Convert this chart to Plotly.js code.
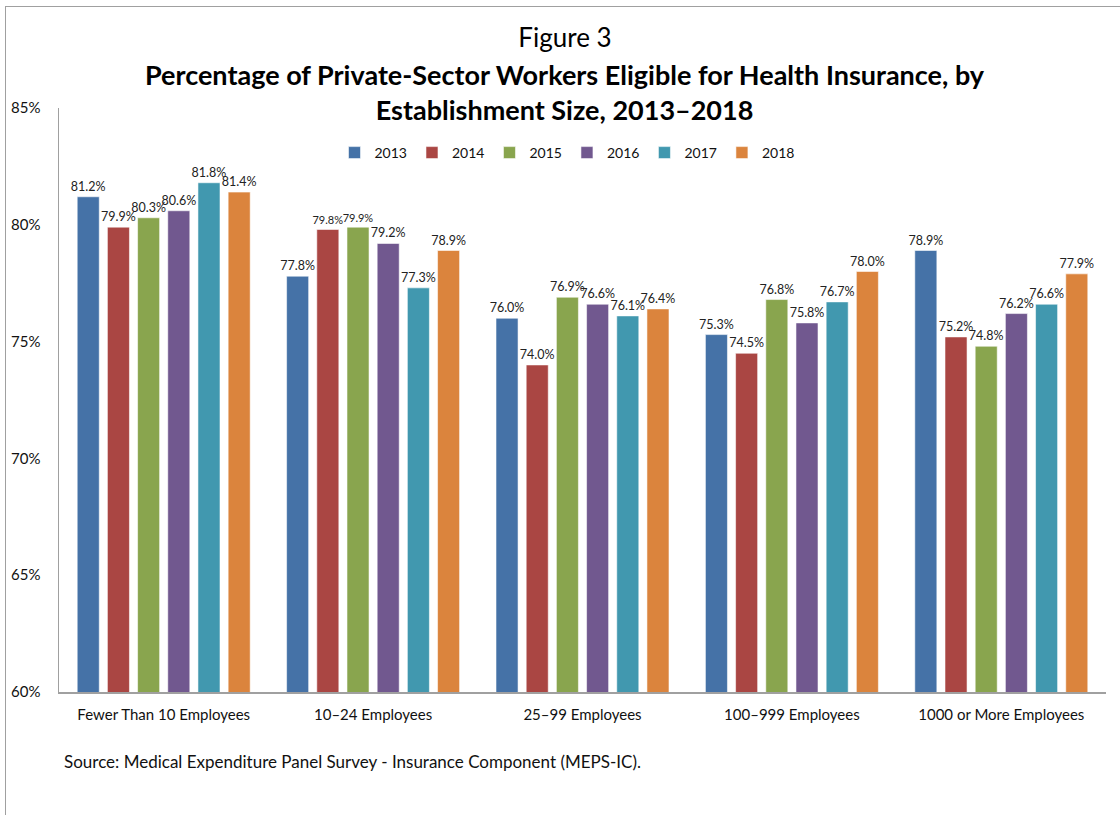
<!DOCTYPE html>
<html>
<head>
<meta charset="utf-8">
<script src="https://cdn.plot.ly/plotly-3.0.1.min.js"></script>
<style>
  html, body { margin: 0; padding: 0; background: #fff; }
  #wrap { position: relative; width: 1120px; height: 815px; overflow: hidden; }
  #chart { position: absolute; left: 0; top: 0; width: 1120px; height: 815px; }
  #frame { position: absolute; left: 5px; top: 6px; width: 1200px; height: 900px;
           border-left: 1.5px solid #a0a0a0; border-top: 1.5px solid #a0a0a0; pointer-events: none; }
</style>
</head>
<body>
<div id="wrap">
  <div id="chart"></div>
  <div id="frame"></div>
</div>
<script>
const categories = ["Fewer Than 10 Employees", "10–24 Employees", "25–99 Employees", "100–999 Employees", "1000 or More Employees"];
const years = ["2013", "2014", "2015", "2016", "2017", "2018"];
const v2013 = [81.2, 77.8, 76.0, 75.3, 78.9];
const v2014 = [79.9, 79.8, 74.0, 74.5, 75.2];
const v2015 = [80.3, 79.9, 76.9, 76.8, 74.8];
const v2016 = [80.6, 79.2, 76.6, 75.8, 76.2];
const v2017 = [81.8, 77.3, 76.1, 76.7, 76.6];
const v2018 = [81.4, 78.9, 76.4, 78.0, 77.9];
const yTicks = [60, 65, 70, 75, 80, 85];
const seriesValues = [v2013, v2014, v2015, v2016, v2017, v2018];
const colors = ["#4572A7", "#AA4643", "#89A54E", "#71588F", "#4198AF", "#DB843D"];

const FONT = "Lato, 'Open Sans', 'Liberation Sans', sans-serif";

// labels of neighbouring bars with nearly equal values get a slightly smaller font so they do not collide
function labelSize(i, g) {
  const v = seriesValues[i][g];
  const left = i > 0 ? seriesValues[i - 1][g] : null;
  const right = i < seriesValues.length - 1 ? seriesValues[i + 1][g] : null;
  const near = (left !== null && Math.abs(left - v) < 0.2) || (right !== null && Math.abs(right - v) < 0.2);
  return near ? 11 : 12.5;
}

const traces = years.map((yr, i) => ({
  type: "bar",
  name: yr,
  x: categories,
  y: seriesValues[i],
  text: seriesValues[i].map(v => v.toFixed(1) + "%"),
  textposition: "outside",
  constraintext: "none",
  cliponaxis: false,
  textfont: { family: FONT, size: seriesValues[i].map((v, g) => labelSize(i, g)), color: "#222" },
  marker: { color: colors[i], line: { color: "rgba(255,255,255,0.55)", width: 1 } },
  hoverinfo: "x+y+name"
}));

const layout = {
  width: 1120,
  height: 815,
  autosize: false,
  margin: { l: 59, r: 14, t: 108, b: 123, autoexpand: false },
  paper_bgcolor: "rgba(0,0,0,0)",
  plot_bgcolor: "rgba(0,0,0,0)",
  font: { family: FONT, size: 15, color: "#111" },
  title: {
    text: "Figure 3",
    font: { family: FONT, size: 26, color: "#000" },
    xref: "container", x: 565 / 1120, xanchor: "center",
    yref: "container", y: 1 - 38 / 815, yanchor: "middle"
  },
  barmode: "group",
  bargap: 0.135,
  bargroupgap: 0.27,
  showlegend: true,
  legend: {
    orientation: "h",
    xref: "paper", x: (567 - 59) / 1047, xanchor: "center",
    yref: "paper", y: (692 - 153) / 584, yanchor: "middle",
    font: { family: FONT, size: 14, color: "#111" },
    itemwidth: 30,
    tracegroupgap: 0,
    bgcolor: "rgba(0,0,0,0)"
  },
  xaxis: {
    type: "category",
    showline: true,
    linecolor: "#a0a0a0",
    linewidth: 2,
    ticks: "",
    showgrid: false,
    zeroline: false,
    tickangle: 0,
    tickfont: { family: FONT, size: 15, color: "#111" },
    ticklabelstandoff: 8
  },
  yaxis: {
    range: [60, 85],
    tickvals: yTicks,
    ticktext: yTicks.map(t => t + "%"),
    showline: true,
    linecolor: "#a0a0a0",
    linewidth: 1.5,
    ticks: "",
    showgrid: false,
    zeroline: false,
    tickfont: { family: FONT, size: 15, color: "#111" },
    ticklabelstandoff: 14
  },
  annotations: [
    {
      text: "<b>Percentage of Private-Sector Workers Eligible for Health Insurance, by</b><br><b>Establishment Size, 2013–2018</b>",
      xref: "paper", x: (565 - 59) / 1047, xanchor: "center",
      yref: "paper", y: (692 - 92) / 584, yanchor: "middle",
      showarrow: false,
      font: { family: FONT, size: 27, color: "#000" },
      align: "center"
    },
    {
      text: "Source: Medical Expenditure Panel Survey - Insurance Component (MEPS-IC).",
      xref: "paper", x: 3 / 1047, xanchor: "left",
      yref: "paper", y: (692 - 761) / 584, yanchor: "middle",
      showarrow: false,
      font: { family: FONT, size: 17, color: "#111" }
    }
  ]
};

Plotly.newPlot("chart", traces, layout, { staticPlot: true, displayModeBar: false });
</script>
</body>
</html>
